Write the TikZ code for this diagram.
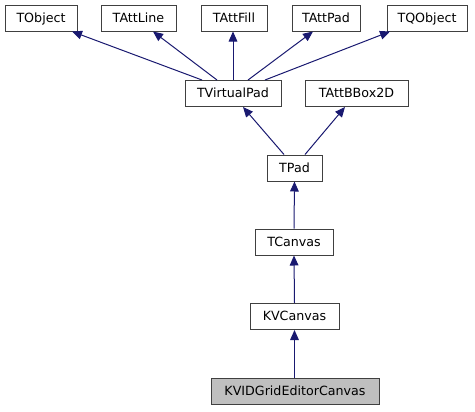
\documentclass[tikz,border=0pt]{standalone}
\usepackage{fontspec}
\setmainfont{DejaVu Sans}
\usetikzlibrary{arrows.meta}
\definecolor{edgeblue}{HTML}{191970}
\definecolor{boxgray}{HTML}{404040}
\definecolor{fillgray}{HTML}{BFBFBF}
\tikzset{
  box/.style={draw=boxgray, line width=0.75pt, fill=white, inner sep=0pt, minimum height=26*0.75pt, text height=1.6ex, text depth=0.4ex, font=\fontsize{9.5pt}{11pt}\selectfont},
  arr/.style={draw=edgeblue, line width=0.75pt, -{Triangle[length=7.5pt,width=6.5pt]}}
}
\begin{document}
\begin{tikzpicture}[x=0.75pt,y=-0.75pt]
\useasboundingbox (0,0) rectangle (475,411);
\node[box, minimum width=72*0.75pt] (tobject) at (41,18) {TObject};
\node[box, minimum width=75*0.75pt] (tattline) at (138.5,18) {TAttLine};
\node[box, minimum width=66*0.75pt] (tattfill) at (234,18) {TAttFill};
\node[box, minimum width=68*0.75pt] (tattpad) at (326,18) {TAttPad};
\node[box, minimum width=80*0.75pt] (tqobject) at (427,18) {TQObject};
\node[box, minimum width=96*0.75pt] (tvirtualpad) at (233,93.5) {TVirtualPad};
\node[box, minimum width=103*0.75pt] (tattbbox) at (356.5,93.5) {TAttBBox2D};
\node[box, minimum width=55*0.75pt] (tpad) at (294.5,168) {TPad};
\node[box, minimum width=78*0.75pt] (tcanvas) at (294,242) {TCanvas};
\node[box, minimum width=89*0.75pt] (kvcanvas) at (294.5,316.5) {KVCanvas};
\node[box, minimum width=168*0.75pt, fill=fillgray] (kvid) at (295,391) {KVIDGridEditorCanvas};
\draw[arr] ([xshift=-31*0.75pt]tvirtualpad.north) -- ([xshift=31*0.75pt]tobject.south);
\draw[arr] ([xshift=-16*0.75pt]tvirtualpad.north) -- ([xshift=14.5*0.75pt]tattline.south);
\draw[arr] (tvirtualpad.north) -- ([xshift=-1*0.75pt]tattfill.south);
\draw[arr] ([xshift=15*0.75pt]tvirtualpad.north) -- ([xshift=-13*0.75pt]tattpad.south);
\draw[arr] ([xshift=32*0.75pt]tvirtualpad.north) -- ([xshift=-37*0.75pt]tqobject.south);
\draw[arr] ([xshift=-10.5*0.75pt]tpad.north) -- ([xshift=10*0.75pt]tvirtualpad.south);
\draw[arr] ([xshift=10.5*0.75pt]tpad.north) -- ([xshift=-11.5*0.75pt]tattbbox.south);
\draw[arr] (tcanvas.north) -- (tpad.south);
\draw[arr] (kvcanvas.north) -- (tcanvas.south);
\draw[arr] ([xshift=-0.5*0.75pt]kvid.north) -- (kvcanvas.south);
\end{tikzpicture}
\end{document}
